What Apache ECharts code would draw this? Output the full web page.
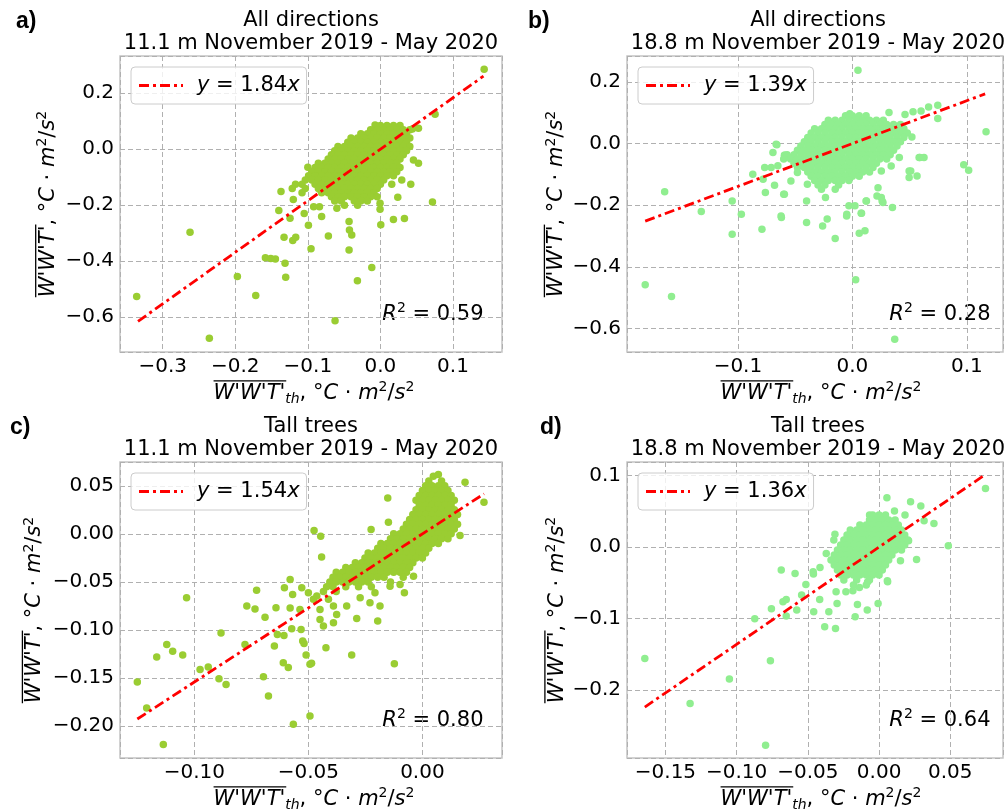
<!DOCTYPE html>
<html>
<head>
<meta charset="utf-8">
<script src="https://cdn.jsdelivr.net/npm/echarts@6/dist/echarts.min.js"></script>
<style>
  html, body { margin: 0; padding: 0; background: #ffffff; }
  #chart { width: 1006px; height: 812px; }
</style>
</head>
<body>
<div id="chart"></div>
<script>
// ---------------- data ----------------
const panelLetters = ['a)', 'b)', 'c)', 'd)'];
const panelGroups = ['All directions', 'All directions', 'Tall trees', 'Tall trees'];
const panelHeights = ['11.1 m', '18.8 m', '11.1 m', '18.8 m'];
const periodLabel = 'November 2019 - May 2020';
const slopes = [1.84, 1.39, 1.54, 1.36];
const rSquared = ['0.59', '0.28', '0.80', '0.64'];
const fitXRange = [[-0.334, 0.142], [-0.181, 0.116], [-0.125, 0.027], [-0.1645, 0.073]];
const xRanges = [[-0.3588, 0.1675], [-0.1969, 0.1316], [-0.1326, 0.0349], [-0.177, 0.087]];
const yRanges = [[-0.724, 0.333], [-0.676, 0.284], [-0.233, 0.0747], [-0.295, 0.119]];
const xTickSteps = [0.1, 0.1, 0.05, 0.05];
const yTickSteps = [0.2, 0.2, 0.05, 0.1];
const xTickDecimals = [1, 1, 2, 2];
const yTickDecimals = [1, 1, 2, 1];

// a) all directions, 11.1 m -- scattered points, then the dense core as [y, [x...]] rows
const scatterA = [
  [0.1429,0.2857],[0.0753,0.125],[-0.3358,-0.526],[-0.2623,-0.2964],[-0.2357,-0.675],[-0.1971,-0.4548],
  [-0.1718,-0.5226],[-0.1585,-0.387],[-0.1511,-0.39],[-0.1447,-0.392],[-0.1314,-0.407],[-0.1305,-0.457],
  [-0.1328,-0.314],[-0.1208,-0.326],[-0.1167,-0.314],[-0.0956,-0.355],[-0.0992,-0.271],[-0.0717,-0.3095],
  [-0.0432,-0.258],[-0.0427,-0.288],[-0.0395,-0.306],[-0.0432,-0.3595],[-0.0317,-0.47],[-0.0119,-0.4226],
  [-0.0625,-0.612],[0.0005,-0.27],[0.0179,-0.251],[0.0331,-0.2476],[0.0717,-0.188],[-0.0005,-0.193],
  [-0.0005,-0.214],[0.0239,-0.171],[0.0156,-0.125],[0.0294,-0.11],[0.0418,-0.125],[0.0455,-0.038],
  [0.0524,-0.05],[0.0524,0.075],[0.044,0.072],[-0.0074,0.087],[-0.137,-0.151],[-0.12,-0.179],
  [-0.14,-0.219],[-0.1245,-0.246],[-0.105,-0.229],[-0.1,-0.064],[-0.084,-0.205],[-0.081,-0.24],
  [-0.06,-0.211],[-0.083,-0.145],[-0.092,-0.205]
];
const coreRowsA = [
  [0.085, [0, 0.009, 0.018, 0.027]],
  [0.07, [-0.0135, -0.0045, 0.0045, 0.0135, 0.0225, 0.0315, 0.0405]],
  [0.055, [-0.027, -0.018, -0.009, 0, 0.009, 0.018, 0.027, 0.036]],
  [0.04, [-0.0405, -0.0315, -0.0225, -0.0135, -0.0045, 0.0045, 0.0135, 0.0225, 0.0315, 0.0405]],
  [0.025, [-0.045, -0.036, -0.027, -0.018, -0.009, 0, 0.009, 0.018, 0.027, 0.036]],
  [0.01, [-0.0585, -0.0495, -0.0405, -0.0315, -0.0225, -0.0135, -0.0045, 0.0045, 0.0135, 0.0225, 0.0315, 0.0405]],
  [-0.005, [-0.063, -0.054, -0.045, -0.036, -0.027, -0.018, -0.009, 0, 0.009, 0.018, 0.027, 0.036]],
  [-0.02, [-0.0675, -0.0585, -0.0495, -0.0405, -0.0315, -0.0225, -0.0135, -0.0045, 0.0045, 0.0135, 0.0225, 0.0315]],
  [-0.035, [-0.072, -0.063, -0.054, -0.045, -0.036, -0.027, -0.018, -0.009, 0, 0.009, 0.018, 0.027]],
  [-0.05, [-0.0855, -0.0765, -0.0675, -0.0585, -0.0495, -0.0405, -0.0315, -0.0225, -0.0135, -0.0045, 0.0045, 0.0135, 0.0225]],
  [-0.065, [-0.09, -0.081, -0.072, -0.063, -0.054, -0.045, -0.036, -0.027, -0.018, -0.009, 0, 0.009, 0.018, 0.027]],
  [-0.08, [-0.0945, -0.0855, -0.0765, -0.0675, -0.0585, -0.0495, -0.0405, -0.0315, -0.0225, -0.0135, -0.0045, 0.0045, 0.0135, 0.0225]],
  [-0.095, [-0.099, -0.09, -0.081, -0.072, -0.063, -0.054, -0.045, -0.036, -0.027, -0.018, -0.009, 0, 0.009, 0.018]],
  [-0.11, [-0.1035, -0.0945, -0.0855, -0.0765, -0.0675, -0.0585, -0.0495, -0.0405, -0.0315, -0.0225, -0.0135, -0.0045, 0.0045]],
  [-0.125, [-0.117, -0.108, -0.09, -0.081, -0.072, -0.063, -0.054, -0.045, -0.036, -0.027, -0.018, -0.009, 0]],
  [-0.14, [-0.1215, -0.1035, -0.0855, -0.0765, -0.0675, -0.0585, -0.0495, -0.0405, -0.0315, -0.0225, -0.0135, -0.0045]],
  [-0.155, [-0.108, -0.081, -0.072, -0.063, -0.054, -0.045, -0.036, -0.027, -0.018, -0.009]],
  [-0.17, [-0.0675, -0.0585, -0.0495, -0.0405, -0.0315, -0.0225, -0.0135, -0.0045]],
  [-0.185, [-0.063, -0.054, -0.036, -0.027, -0.018]],
  [-0.2, [-0.0495, -0.0315]]
];

// b) all directions, 18.8 m
const scatterB = [
  [0.0049,0.238],[0.1168,0.038],[0.0973,-0.069],[0.1016,-0.0865],[-0.181,-0.458],[-0.158,-0.496],
  [-0.164,-0.156],[-0.132,-0.2205],[-0.105,-0.186],[-0.097,-0.229],[-0.105,-0.294],[-0.079,-0.278],
  [-0.062,-0.24],[-0.087,-0.0995],[-0.066,-0.004],[-0.059,-0.038],[-0.076,-0.159],[-0.06,-0.164],
  [-0.04,-0.186],[-0.04,-0.256],[-0.026,-0.267],[-0.022,-0.245],[-0.015,-0.308],[0.0029,-0.442],
  [0.037,-0.635],[0.006,-0.291],[0.011,-0.283],[-0.005,-0.235],[0.0077,-0.226],[-0.003,-0.202],
  [0.012,-0.186],[0.0215,-0.17],[0.026,-0.186],[0.035,-0.2076],[0.051,-0.089],[0.0565,-0.105],
  [0.059,-0.045],[0.052,0.0216],[0.0666,0.119],[0.0746,0.124],[0.0746,0.081],[0.032,0.1005],
  [-0.0023,0.097],[0.053,0.103],[0.06,0.106],[0.046,0.094],
  [-0.0666,-0.002],[-0.0694,-0.029],[-0.0594,-0.038],[-0.0522,-0.045],[-0.0651,-0.072],[-0.0766,-0.078],
  [-0.078,-0.116],[-0.068,-0.135],[-0.0594,-0.164],[-0.0537,-0.121],[-0.048,-0.094],[-0.0235,-0.175],
  [-0.0393,-0.132],[0.0253,-0.0886],[0.0339,-0.0724],[0.041,-0.045],[0.0496,-0.0886],[0.0583,-0.045],
  [0.0626,-0.045],[0.0496,-0.11],[0.0224,-0.143],[0.0253,-0.175],[0.0267,-0.191],[0.0123,-0.186],
  [0.0023,-0.202],[-0.0049,-0.229],[0.008,-0.226],[-0.0623,-0.235],[-0.0709,-0.078]
];
const coreRowsB = [
  [0.09, [-0.006, 0, 0.006, 0.012]],
  [0.076, [-0.021, -0.015, -0.009, -0.003, 0.003, 0.009, 0.015, 0.021, 0.027]],
  [0.062, [-0.024, -0.018, -0.012, -0.006, 0, 0.006, 0.012, 0.018, 0.024, 0.03, 0.036, 0.042]],
  [0.048, [-0.033, -0.027, -0.021, -0.015, -0.009, -0.003, 0.003, 0.009, 0.015, 0.021, 0.027, 0.033, 0.039, 0.045]],
  [0.034, [-0.036, -0.03, -0.024, -0.018, -0.012, -0.006, 0, 0.006, 0.012, 0.018, 0.024, 0.03, 0.036, 0.042, 0.048]],
  [0.02, [-0.039, -0.033, -0.027, -0.021, -0.015, -0.009, -0.003, 0.003, 0.009, 0.015, 0.021, 0.027, 0.033, 0.039, 0.045]],
  [0.006, [-0.042, -0.036, -0.03, -0.024, -0.018, -0.012, -0.006, 0, 0.006, 0.012, 0.018, 0.024, 0.03, 0.036, 0.042]],
  [-0.008, [-0.045, -0.039, -0.033, -0.027, -0.021, -0.015, -0.009, -0.003, 0.003, 0.009, 0.015, 0.021, 0.027, 0.033, 0.039]],
  [-0.022, [-0.048, -0.042, -0.036, -0.03, -0.024, -0.018, -0.012, -0.006, 0, 0.006, 0.012, 0.018, 0.024, 0.03, 0.036]],
  [-0.036, [-0.057, -0.051, -0.045, -0.039, -0.033, -0.027, -0.021, -0.015, -0.009, -0.003, 0.003, 0.009, 0.015, 0.021, 0.027, 0.033]],
  [-0.05, [-0.06, -0.054, -0.048, -0.042, -0.036, -0.03, -0.024, -0.018, -0.012, -0.006, 0, 0.006, 0.012, 0.018, 0.024, 0.03]],
  [-0.064, [-0.051, -0.045, -0.039, -0.033, -0.027, -0.021, -0.015, -0.009, -0.003, 0.003, 0.009, 0.015, 0.021]],
  [-0.078, [-0.048, -0.042, -0.036, -0.03, -0.024, -0.018, -0.012, -0.006, 0, 0.006, 0.012, 0.018]],
  [-0.092, [-0.039, -0.033, -0.027, -0.021, -0.015, -0.009, -0.003, 0.003, 0.009, 0.015]],
  [-0.106, [-0.036, -0.03, -0.024, -0.018, -0.012, -0.006, 0, 0.006]],
  [-0.12, [-0.033, -0.027, -0.021, -0.015, -0.009, -0.003]],
  [-0.134, [-0.03, -0.024, -0.012]],
  [-0.148, [-0.027, -0.015]]
];

// c) tall trees, 11.1 m
const scatterC = [
  [-0.125,-0.154],[-0.1209,-0.181],[-0.1136,-0.219],[-0.1165,-0.128],[-0.1121,-0.115],[-0.1095,-0.122],
  [-0.1051,-0.126],[-0.1034,-0.0665],[-0.0975,-0.141],[-0.0939,-0.1385],[-0.0892,-0.1506],[-0.0861,-0.1565],
  [-0.0883,-0.103],[-0.0778,-0.115],[-0.077,-0.075],[-0.0734,-0.078],[-0.0727,-0.0585],[-0.069,-0.0866],
  [-0.0697,-0.1485],[-0.0675,-0.1686],[-0.0649,-0.1167],[-0.0642,-0.0769],[-0.0636,-0.1046],[-0.0607,-0.1056],
  [-0.061,-0.134],[-0.0588,-0.139],[-0.0605,-0.056],[-0.058,-0.0474],[-0.0569,-0.063],[-0.0573,-0.0987],
  [-0.058,-0.077],[-0.0566,-0.198],[-0.0532,-0.0994],[-0.0525,-0.1115],[-0.0519,-0.114],[-0.051,-0.126],
  [-0.0493,-0.1355],[-0.0486,-0.1345],[-0.0493,-0.1894],[-0.0478,-0.068],[-0.0475,0.0035],[-0.0446,-0.0024],
  [-0.0442,-0.024],[-0.0449,-0.0786],[-0.0423,-0.1184],[-0.031,-0.126],[-0.0288,-0.088],[-0.0196,-0.0907],
  [-0.0123,-0.135],[-0.0225,0.0045],[-0.0152,0.0374],[-0.0149,0.0121],[0.0048,0.0599],[0.007,0.0616],
  [0.0187,0.0537],[0.027,0.0329],[0.0165,-0.0017],[-0.0039,-0.044],
  [-0.0529,-0.056],[-0.05,-0.0613],[-0.0463,-0.0647],[-0.0412,-0.068],[-0.039,-0.075],[-0.0376,-0.0838],
  [-0.039,-0.0925],[-0.0434,-0.0959],[-0.0332,-0.075],[-0.0273,-0.0665],[-0.023,-0.0717],[-0.0186,-0.075],
  [-0.0208,-0.0613],[-0.0142,-0.0544],[-0.0098,-0.0526],[-0.0079,-0.0613],[-0.0537,-0.0786],[-0.0449,-0.089]
];
const coreRowsC = [
  [0.055, [0.0028, 0.0084]],
  [0.05, [0.0014, 0.0042, 0.007, 0.0098]],
  [0.045, [0, 0.0028, 0.0056, 0.0084, 0.0112]],
  [0.04, [-0.0014, 0.0014, 0.0042, 0.007, 0.0098, 0.0126]],
  [0.035, [-0.0028, 0, 0.0028, 0.0056, 0.0084, 0.0112, 0.014]],
  [0.03, [-0.0014, 0.0014, 0.0042, 0.007, 0.0098, 0.0126]],
  [0.025, [-0.0028, 0, 0.0028, 0.0056, 0.0084, 0.0112, 0.014]],
  [0.02, [-0.0042, -0.0014, 0.0014, 0.0042, 0.007, 0.0098, 0.0126, 0.0154]],
  [0.015, [-0.0056, -0.0028, 0, 0.0028, 0.0056, 0.0084, 0.0112, 0.014]],
  [0.01, [-0.007, -0.0042, -0.0014, 0.0014, 0.0042, 0.007, 0.0098, 0.0126, 0.0154]],
  [0.005, [-0.0084, -0.0056, -0.0028, 0, 0.0028, 0.0056, 0.0084, 0.0112, 0.014]],
  [0.0, [-0.0126, -0.0098, -0.007, -0.0042, -0.0014, 0.0014, 0.0042, 0.007, 0.0098, 0.0126]],
  [-0.005, [-0.014, -0.0112, -0.0084, -0.0056, -0.0028, 0, 0.0028, 0.0056, 0.0084, 0.0112]],
  [-0.01, [-0.0182, -0.0154, -0.0126, -0.0098, -0.007, -0.0042, -0.0014, 0.0014, 0.0042, 0.007]],
  [-0.015, [-0.0196, -0.0168, -0.014, -0.0112, -0.0084, -0.0056, -0.0028, 0, 0.0028]],
  [-0.02, [-0.0238, -0.021, -0.0182, -0.0154, -0.0126, -0.0098, -0.007, -0.0042, -0.0014, 0.0014]],
  [-0.025, [-0.0252, -0.0224, -0.0196, -0.0168, -0.014, -0.0112, -0.0084, -0.0056, -0.0028, 0]],
  [-0.03, [-0.0294, -0.0266, -0.0238, -0.021, -0.0182, -0.0154, -0.0126, -0.0098, -0.007, -0.0042]],
  [-0.035, [-0.0336, -0.0308, -0.028, -0.0252, -0.0224, -0.0196, -0.0168, -0.014, -0.0112, -0.0084, -0.0056]],
  [-0.04, [-0.0378, -0.035, -0.0322, -0.0294, -0.0266, -0.0238, -0.021, -0.0182, -0.0154, -0.0126, -0.0098, -0.007]],
  [-0.045, [-0.0392, -0.0364, -0.0336, -0.0308, -0.028, -0.0252, -0.0224, -0.0196, -0.0168, -0.0084]],
  [-0.05, [-0.0406, -0.0378, -0.035, -0.0322, -0.0294, -0.0266, -0.0238, -0.014]],
  [-0.055, [-0.042, -0.0392, -0.0336, -0.028, -0.0224]],
  [-0.06, [-0.0434, -0.0378]]
];

// d) tall trees, 18.8 m
const scatterD = [
  [0.0747,0.082],[-0.1645,-0.1557],[-0.1327,-0.2186],[-0.1051,-0.1846],[-0.0797,-0.277],[-0.0763,-0.159],
  [-0.0873,-0.1002],[-0.0756,-0.0862],[-0.0675,-0.0765],[-0.0652,-0.0732],[-0.0687,-0.0322],[-0.0652,-0.0965],
  [-0.059,-0.0368],[-0.0578,-0.0881],[-0.0544,-0.0671],[-0.0514,-0.0522],[-0.0463,-0.0345],[-0.0459,-0.0904],
  [-0.0417,-0.0732],[-0.0382,-0.1114],[-0.0306,-0.1138],[-0.0353,-0.0904],[-0.0295,-0.0788],[-0.0318,0.0098],
  [-0.0233,-0.0625],[-0.0168,-0.0974],[-0.0152,-0.0802],[-0.0083,-0.0881],[-0.0007,-0.0788],[-0.0067,0.0448],
  [-0.0014,0.0331],[0.0055,0.069],[0.0108,0.0503],[0.0182,0.0448],[0.0221,0.0634],[0.0293,0.0573],
  [0.0385,0.0331],[0.0316,0.0368],[0.0263,-0.0172],[0.0486,0.0019],[0.006,-0.0485],
  [-0.0415,-0.0284],[-0.0461,-0.0378],[-0.031,0.018],[-0.0138,-0.0564],[-0.0184,-0.061],[-0.0081,-0.049],
  [0.0058,-0.047],[0.015,-0.019],[0.0207,0.0089],[-0.0371,-0.0089],[-0.0302,-0.0625]
];
const coreRowsD = [
  [0.045, [-0.0045, 0, 0.0045]],
  [0.038, [-0.00675, -0.00225, 0.00225, 0.00675, 0.01125]],
  [0.031, [-0.0135, -0.009, -0.0045, 0, 0.0045, 0.009, 0.0135]],
  [0.024, [-0.02025, -0.01575, -0.01125, -0.00675, -0.00225, 0.00225, 0.00675, 0.01125, 0.01575]],
  [0.017, [-0.0225, -0.018, -0.0135, -0.009, -0.0045, 0, 0.0045, 0.009, 0.0135, 0.018]],
  [0.01, [-0.02475, -0.02025, -0.01575, -0.01125, -0.00675, -0.00225, 0.00225, 0.00675, 0.01125, 0.01575, 0.02025]],
  [0.003, [-0.027, -0.0225, -0.018, -0.0135, -0.009, -0.0045, 0, 0.0045, 0.009, 0.0135, 0.018]],
  [-0.004, [-0.02925, -0.02475, -0.02025, -0.01575, -0.01125, -0.00675, -0.00225, 0.00225, 0.00675, 0.01125, 0.01575]],
  [-0.011, [-0.0315, -0.027, -0.0225, -0.018, -0.0135, -0.009, -0.0045, 0, 0.0045, 0.009]],
  [-0.018, [-0.03375, -0.02925, -0.02475, -0.02025, -0.01575, -0.01125, -0.00675, -0.00225, 0.00225, 0.00675]],
  [-0.025, [-0.0315, -0.027, -0.0225, -0.018, -0.0135, -0.009, -0.0045, 0, 0.0045]],
  [-0.032, [-0.02925, -0.02475, -0.02025, -0.01575, -0.01125, -0.00675, -0.00225, 0.00225]],
  [-0.039, [-0.027, -0.0225, -0.018, -0.0135, -0.009, -0.0045, 0]],
  [-0.046, [-0.02475, -0.01575, -0.00675]],
  [-0.053, [-0.018, -0.009]]
];

function rowsToPoints(rows) {
  const out = [];
  rows.forEach(([y, xs]) => xs.forEach(x => out.push([x, y])));
  return out;
}
const panelPoints = [
  scatterA.concat(rowsToPoints(coreRowsA)),
  scatterB.concat(rowsToPoints(coreRowsB)),
  scatterC.concat(rowsToPoints(coreRowsC)),
  scatterD.concat(rowsToPoints(coreRowsD))
];

// ---------------- layout & style ----------------
const PLOT_W = 382, PLOT_H = 296;
const plotOrigins = [[120, 56], [627, 56], [120, 462], [627, 462]];
const letterPos = [[16, 21.3], [528, 21.3], [10, 427.3], [540, 427.3]];
const yTitleX = [48.3, 557, 35, 557.5];
const markerColors = ['#9acd32', '#90ee90', '#9acd32', '#90ee90'];
const FIT_COLOR = '#ff0000';
const FIT_DASH = [10, 4, 3, 4];
const FIT_ICON = 'path://M0,0h10v3h-10z M14,0h3v3h-3z M21,0h10v3h-10z M35,0h3v3h-3z M42,0h2v3h-2z';
const FONT = 'DejaVu Sans';
const GRID_LINE = '#b0b0b0';

const measureCtx = document.createElement('canvas').getContext('2d');
function textWidth(font, s) { measureCtx.font = font; return measureCtx.measureText(s).width; }

const richGraphic = {
  it:  { fontFamily: FONT, fontStyle: 'italic', fontSize: 21, lineHeight: 26, fill: '#000' },
  n:   { fontFamily: FONT, fontSize: 21, lineHeight: 26, fill: '#000' },
  sup: { fontFamily: FONT, fontSize: 14, lineHeight: 26, verticalAlign: 'top', fill: '#000' },
  sub: { fontFamily: FONT, fontStyle: 'italic', fontSize: 14, lineHeight: 26, verticalAlign: 'bottom', fill: '#000' }
};
const segFonts = {
  it: 'italic 21px "DejaVu Sans"', n: '21px "DejaVu Sans"',
  sup: '14px "DejaVu Sans"', sub: 'italic 14px "DejaVu Sans"'
};

function fluxTitleSegments(withSub) {
  const segs = [['it', "W'W'T'"]];
  if (withSub) segs.push(['sub', 'th']);
  segs.push(['n', ', °'], ['it', 'C'], ['n', ' · '], ['it', 'm'], ['sup', '2'], ['n', '/'], ['it', 's'], ['sup', '2']);
  return segs;
}

// An axis title with an overline across the W'W'T' term
function fluxTitle(cx, cy, withSub, rotation) {
  const segs = fluxTitleSegments(withSub);
  const total = segs.reduce((s, [k, t]) => s + textWidth(segFonts[k], t), 0);
  const barW = textWidth(segFonts.it, segs[0][1]);
  const text = segs.map(([k, t]) => '{' + k + '|' + t + '}').join('');
  return {
    type: 'group', x: cx, y: cy, rotation: rotation,
    children: [
      { type: 'text', x: 0, y: 0,
        style: { text: text, rich: richGraphic, align: 'center', verticalAlign: 'middle',
                 textAlign: 'center', textVerticalAlign: 'middle' } },
      { type: 'line', shape: { x1: -total / 2, y1: -12.6, x2: -total / 2 + barW + 1, y2: -12.6 },
        style: { stroke: '#000', lineWidth: 1.3 } }
    ]
  };
}

function tickFormatter(step, decimals) {
  return function (v) {
    const k = v / step;
    if (Math.abs(k - Math.round(k)) > 1e-6) return '';
    let val = Math.round(k) * step;
    if (Math.abs(val) < 1e-12) val = 0;
    return val.toFixed(decimals).replace('-', '\u2212');
  };
}

const grids = [], xAxes = [], yAxes = [], series = [], legends = [], graphics = [];

for (let i = 0; i < 4; i++) {
  const [gl, gt] = plotOrigins[i];
  grids.push({ left: gl, top: gt, width: PLOT_W, height: PLOT_H, show: true,
               borderColor: '#c4c4c4', borderWidth: 1.5, backgroundColor: 'transparent', containLabel: false });

  const splitLine = { show: true, lineStyle: { color: GRID_LINE, width: 1, type: [5, 3] } };
  xAxes.push({
    gridIndex: i, type: 'value', min: xRanges[i][0], max: xRanges[i][1],
    minInterval: xTickSteps[i], maxInterval: xTickSteps[i], splitNumber: 5,
    axisLine: { show: false }, axisTick: { show: false }, splitLine: splitLine,
    axisLabel: { formatter: tickFormatter(xTickSteps[i], xTickDecimals[i]), fontFamily: FONT,
                 fontSize: 20, color: '#000', margin: 5 }
  });
  yAxes.push({
    gridIndex: i, type: 'value', min: yRanges[i][0], max: yRanges[i][1],
    minInterval: yTickSteps[i], maxInterval: yTickSteps[i], splitNumber: 5,
    axisLine: { show: false }, axisTick: { show: false }, splitLine: splitLine,
    axisLabel: { formatter: tickFormatter(yTickSteps[i], yTickDecimals[i]), fontFamily: FONT,
                 fontSize: 20, color: '#000', margin: 6 }
  });

  series.push({
    type: 'scatter', xAxisIndex: i, yAxisIndex: i, data: panelPoints[i],
    symbol: 'circle', symbolSize: 7.5, itemStyle: { color: markerColors[i], opacity: 1 },
    emphasis: { disabled: true }, z: 2
  });

  const s = slopes[i];
  const fitName = 'y = ' + s.toFixed(2) + 'x';
  series.push({
    name: fitName, type: 'line', xAxisIndex: i, yAxisIndex: i,
    data: fitXRange[i].map(x => [x, s * x]),
    symbol: 'none', showSymbol: false,
    lineStyle: { color: FIT_COLOR, width: 2.8, type: FIT_DASH },
    itemStyle: { color: FIT_COLOR }, z: 3, silent: true
  });

  legends.push({
    data: [{ name: fitName, icon: FIT_ICON }], left: gl + 11, top: gt + 11, orient: 'horizontal',
    itemWidth: 44, itemHeight: 3, padding: [8, 7, 8, 8],
    backgroundColor: 'rgba(255,255,255,0.8)', borderColor: '#cccccc', borderWidth: 1, borderRadius: 4,
    selectedMode: false,
    itemStyle: { color: FIT_COLOR, borderWidth: 0 },
    formatter: function () { return '{g|}{i|y} = ' + s.toFixed(2) + '{i|x}'; },
    textStyle: { fontFamily: FONT, fontSize: 21, color: '#000', lineHeight: 21,
      rich: { g: { width: 9 }, i: { fontFamily: FONT, fontStyle: 'italic', fontSize: 21, color: '#000', lineHeight: 21 } } }
  });

  const cx = gl + PLOT_W / 2;
  // two-line panel heading
  graphics.push({ type: 'text', x: cx, y: gt - 35.7,
    style: { text: panelGroups[i], fontFamily: FONT, fontSize: 21, fill: '#000',
             align: 'center', verticalAlign: 'middle', textAlign: 'center', textVerticalAlign: 'middle' } });
  graphics.push({ type: 'text', x: cx, y: gt - 12.7,
    style: { text: panelHeights[i] + ' ' + periodLabel, fontFamily: FONT, fontSize: 21, fill: '#000',
             align: 'center', verticalAlign: 'middle', textAlign: 'center', textVerticalAlign: 'middle' } });
  // panel letter
  graphics.push({ type: 'text', x: letterPos[i][0], y: letterPos[i][1],
    style: { text: panelLetters[i], fontFamily: 'Liberation Sans', fontWeight: 'bold', fontSize: 23, fill: '#000',
             align: 'left', verticalAlign: 'middle', textAlign: 'left', textVerticalAlign: 'middle' } });
  // coefficient of determination
  graphics.push({ type: 'text', x: gl + 363.5, y: gt + 258.5,
    style: { text: '{it|R}{sup|2}{n| = ' + rSquared[i] + '}', rich: richGraphic,
             align: 'right', verticalAlign: 'middle', textAlign: 'right', textVerticalAlign: 'middle' } });
  // axis titles
  graphics.push(fluxTitle(cx + 3, gt + 337.4, true, 0));
  graphics.push(fluxTitle(yTitleX[i], gt + PLOT_H / 2, false, Math.PI / 2));
}

const chart = echarts.init(document.getElementById('chart'), null, { renderer: 'canvas' });
chart.setOption({
  animation: false,
  backgroundColor: '#ffffff',
  textStyle: { fontFamily: FONT },
  grid: grids, xAxis: xAxes, yAxis: yAxes, series: series, legend: legends,
  graphic: { elements: graphics }
});
</script>
</body>
</html>
